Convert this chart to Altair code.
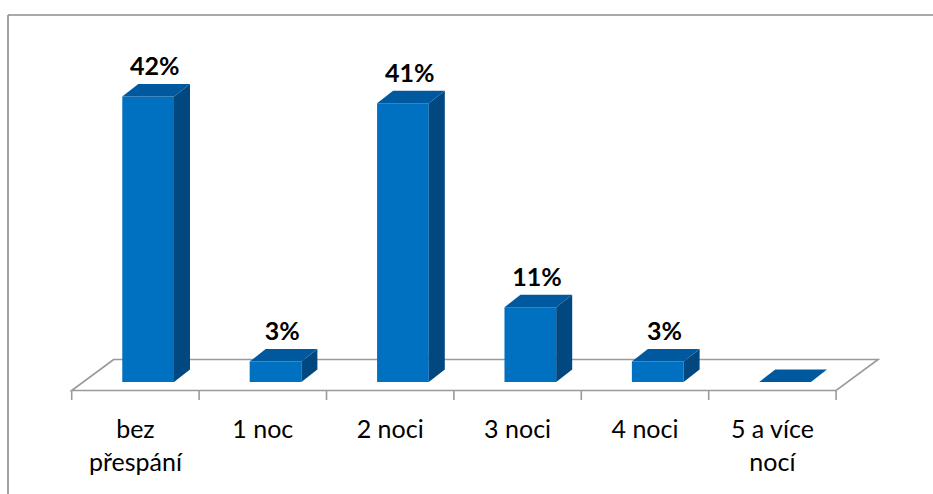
import altair as alt
import pandas as pd

# ---- data ----
categories = ["bez přespání", "1 noc", "2 noci", "3 noci", "4 noci", "5 a více nocí"]
axis_labels = ["bez\npřespání", "1 noc", "2 noci", "3 noci", "4 noci", "5 a více\nnocí"]
values = [42, 3, 41, 11, 3, 0]
value_labels = ["42%", "3%", "41%", "11%", "3%", ""]

# ---- layout geometry (pixels) ----
W, H = 933, 494
X0, SLOT = 71.7, 127.4          # pixel of first category boundary, category width
Y0, PPP = 382.0, 6.8            # pixel of value 0 (bar base), pixels per percent
BAR_L, BAR_R = 0.397, 0.803     # bar front face inside its category (fraction)
DX_PX, DY_PX = 16.0, 12.5       # 3D depth offset of bars
FLOOR_FRONT_PX, FLOOR_BACK_PX = 390.5, 359.5
FLOOR_SHIFT_PX = 42.0
TICK_LEN_PX = 9.5

DXU = DX_PX / SLOT
DYV = DY_PX / PPP


def v_of(px):
    return (Y0 - px) / PPP


x_scale = alt.Scale(domain=[-X0 / SLOT, (W - X0) / SLOT], nice=False, zero=False)
y_scale = alt.Scale(domain=[-(H - Y0) / PPP, Y0 / PPP], nice=False, zero=False)

FRONT = "#0070C0"
TOP = "#00599E"
SIDE = "#00487F"
GRID = "#9A9A9A"

n = len(categories)
bars = pd.DataFrame({
    "idx": list(range(n)),
    "cat": categories,
    "value": values,
    "vlabel": value_labels,
    "alabel": axis_labels,
})

side_rows, top_rows = [], []
for i, (c, v) in enumerate(zip(categories, values)):
    uL, uR = i + BAR_L, i + BAR_R
    side_rows.append({"cat": c, "x": uR, "y": v, "y2": 0.0})
    side_rows.append({"cat": c, "x": uR + DXU, "y": v + DYV, "y2": DYV})
    top_rows.append({"cat": c, "y": v, "x": uL, "x2": uR})
    top_rows.append({"cat": c, "y": v + DYV, "x": uL + DXU, "x2": uR + DXU})
side = pd.DataFrame(side_rows)
top = pd.DataFrame(top_rows)

shift_u = FLOOR_SHIFT_PX / SLOT
floor = pd.DataFrame({
    "y": [v_of(FLOOR_FRONT_PX), v_of(FLOOR_BACK_PX)],
    "x": [0.0, shift_u],
    "x2": [float(n), n + shift_u],
})
ticks = pd.DataFrame({"x": list(range(n + 1))})
ticks["y"] = v_of(FLOOR_FRONT_PX)
ticks["y2"] = v_of(FLOOR_FRONT_PX + TICK_LEN_PX)

one = pd.DataFrame({"a": [0]})

frame_top = alt.Chart(one).mark_rule(color="#8C8C8C", strokeWidth=1.6).encode(
    x=alt.value(8), x2=alt.value(W), y=alt.value(15))
frame_left = alt.Chart(one).mark_rule(color="#8C8C8C", strokeWidth=1.6).encode(
    x=alt.value(8), y=alt.value(15), y2=alt.value(H))

floor_layer = alt.Chart(floor).mark_area(
    orient="horizontal", fill="white", stroke=GRID, strokeWidth=1.6
).encode(
    y=alt.Y("y:Q", scale=y_scale, axis=None),
    x=alt.X("x:Q", scale=x_scale, axis=None, stack=None),
    x2="x2:Q",
)

tick_layer = alt.Chart(ticks).mark_rule(color=GRID, strokeWidth=1.6).encode(
    x=alt.X("x:Q", scale=x_scale, axis=None),
    y=alt.Y("y:Q", scale=y_scale, axis=None),
    y2="y2:Q",
)

front_layer = alt.Chart(bars).transform_calculate(
    xl=f"datum.idx + {BAR_L}", xr=f"datum.idx + {BAR_R}"
).mark_bar(color=FRONT).encode(
    x=alt.X("xl:Q", scale=x_scale, axis=None),
    x2="xr:Q",
    y=alt.Y("value:Q", scale=y_scale, axis=None, stack=None),
    y2=alt.datum(0),
)

side_layer = alt.Chart(side).mark_area(color=SIDE).encode(
    x=alt.X("x:Q", scale=x_scale, axis=None),
    y=alt.Y("y:Q", scale=y_scale, axis=None, stack=None),
    y2="y2:Q",
    detail="cat:N",
)

top_layer = alt.Chart(top).mark_area(orient="horizontal", color=TOP).encode(
    y=alt.Y("y:Q", scale=y_scale, axis=None),
    x=alt.X("x:Q", scale=x_scale, axis=None, stack=None),
    x2="x2:Q",
    detail="cat:N",
)

value_text = alt.Chart(bars).transform_filter("datum.value > 0").transform_calculate(
    xc=f"datum.idx + {(BAR_L + BAR_R) / 2 + DXU / 2 - 0.01}",
    yt=f"datum.value + {DYV}",
).mark_text(
    font="Lato", fontWeight="bold", fontSize=25, color="black",
    baseline="alphabetic", align="center", dy=-9,
).encode(
    x=alt.X("xc:Q", scale=x_scale, axis=None),
    y=alt.Y("yt:Q", scale=y_scale, axis=None),
    text="vlabel:N",
)

cat_text = alt.Chart(bars).transform_calculate(
    xc="datum.idx + 0.5"
).mark_text(
    font="Lato", fontSize=25, color="black", baseline="alphabetic",
    align="center", lineBreak="\n", lineHeight=33,
).encode(
    x=alt.X("xc:Q", scale=x_scale, axis=None),
    y=alt.value(438),
    text="alabel:N",
)

chart = alt.layer(
    frame_top, frame_left, floor_layer, tick_layer,
    front_layer, side_layer, top_layer, value_text, cat_text,
).properties(
    width=W, height=H,
    autosize=alt.AutoSizeParams(type="none"),
    padding=0,
    background="white",
).configure_view(stroke=None)

chart.save("out.html", embed_options={"renderer": "svg", "actions": False})
